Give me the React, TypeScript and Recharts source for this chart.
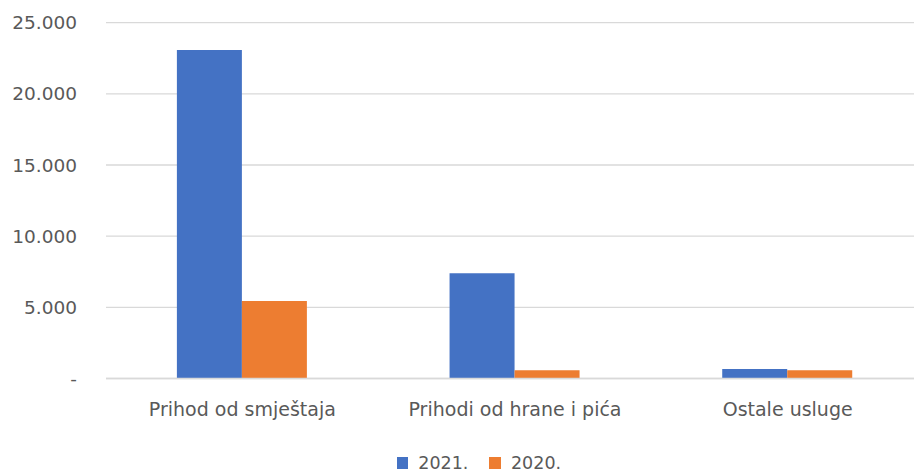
import React from 'react';
import { BarChart, Bar, XAxis, YAxis, CartesianGrid, Legend } from 'recharts';

const categories = ['Prihod od smještaja', 'Prihodi od hrane i pića', 'Ostale usluge'];
const values2021 = [23080, 7390, 670];
const values2020 = [5450, 575, 575];
const yTicks = [0, 5000, 10000, 15000, 20000, 25000];
const seriesNames = ['2021.', '2020.'];
const seriesColors = ['#4472C4', '#ED7D31'];

const data = categories.map((c, i) => ({ name: c, s2021: values2021[i], s2020: values2020[i] }));

const FONT = "'DejaVu Sans', sans-serif";
const TEXT = '#595959';

const fmt = (v: number) => (v === 0 ? '-' : v.toLocaleString('de-DE'));

const LegendContent = (props: any) => {
  const payload = (props.payload || []).slice();
  payload.sort((a: any, b: any) => seriesNames.indexOf(a.value) - seriesNames.indexOf(b.value));
  return (
    <div style={{ display: 'flex', alignItems: 'center', fontFamily: FONT, fontSize: 17.5, color: TEXT, lineHeight: '20px' }}>
      {payload.map((p: any, i: number) => (
        <div key={i} style={{ display: 'flex', alignItems: 'center', marginRight: i === 0 ? 21 : 0 }}>
          <div style={{ width: 11.6, height: 11.6, background: p.color, marginRight: 10 }} />
          <span>{p.value}</span>
        </div>
      ))}
    </div>
  );
};

export default function App() {
  return (
    <div style={{ position: 'absolute', left: 0, top: 0, width: 914, height: 473, overflow: 'hidden', background: '#fff' }}>
      <BarChart
        width={930}
        height={473}
        data={data}
        margin={{ top: 22.7, right: 6, bottom: 0, left: 0 }}
        barCategoryGap="26%"
        barGap={0}
      >
        <CartesianGrid vertical={false} stroke="#D9D9D9" strokeWidth={1.3} />
        <XAxis
          dataKey="name"
          axisLine={{ stroke: '#D9D9D9', strokeWidth: 1.3 }}
          tickLine={false}
          tickSize={0}
          tickMargin={24}
          height={94.5}
          interval={0}
          tick={{ fill: TEXT, fontSize: 19, fontFamily: FONT }}
        />
        <YAxis
          width={106}
          domain={[0, 25000]}
          ticks={yTicks}
          tickFormatter={fmt}
          axisLine={false}
          tickLine={false}
          tickSize={0}
          tickMargin={29}
          tick={{ fill: TEXT, fontSize: 18.5, fontFamily: FONT }}
        />
        <Legend
          verticalAlign="middle"
          align="center"
          layout="horizontal"
          content={<LegendContent />}
          wrapperStyle={{ top: 453, left: 396.7, width: 'auto' }}
        />
        <Bar dataKey="s2021" name={seriesNames[0]} fill={seriesColors[0]} isAnimationActive={false} />
        <Bar dataKey="s2020" name={seriesNames[1]} fill={seriesColors[1]} isAnimationActive={false} />
      </BarChart>
    </div>
  );
}
